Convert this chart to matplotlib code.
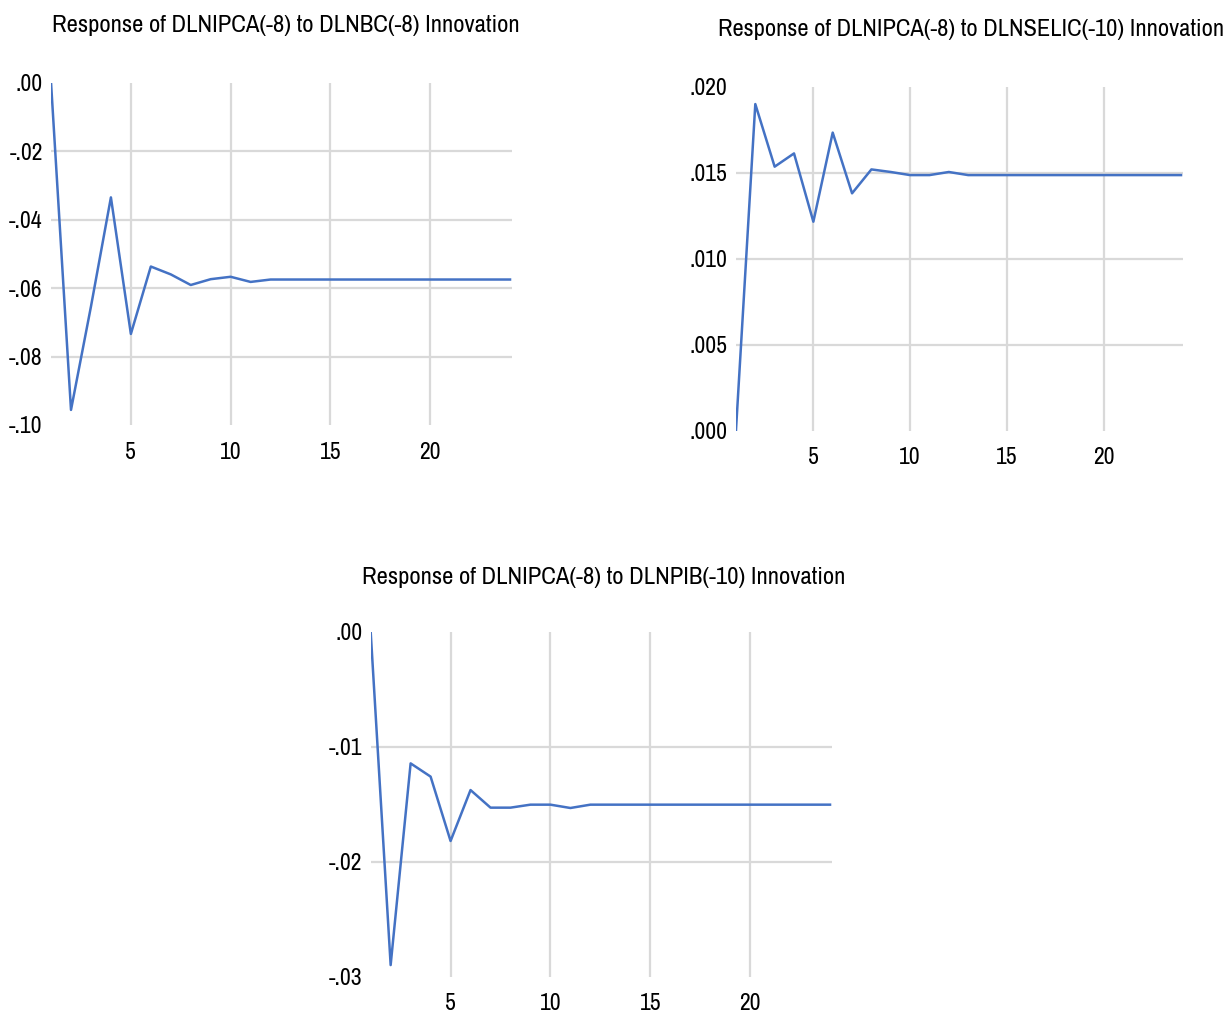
import matplotlib
matplotlib.use("Agg")
import matplotlib.pyplot as plt
from matplotlib.ticker import FuncFormatter

plt.rcParams['font.family'] = ['Archivo Narrow', 'DejaVu Sans']
plt.rcParams['font.stretch'] = 'condensed'

# periods 1..24
periods = list(range(1, 25))

# response to DLNBC(-8)
resp_bc = [0.0, -0.0956, -0.0654, -0.0335, -0.0734, -0.0537, -0.0560, -0.0591,
           -0.0574, -0.0567, -0.0582] + [-0.0575] * 13

# response to DLNSELIC(-10)
resp_selic = [0.0, 0.01899, 0.01535, 0.01612, 0.01215, 0.01733, 0.01380, 0.01519,
              0.01504, 0.01486, 0.01486, 0.01504] + [0.01486] * 12

# response to DLNPIB(-10)
resp_pib = [0.0, -0.02899, -0.01145, -0.01260, -0.01820, -0.01377, -0.01530, -0.01530,
            -0.01504, -0.01504, -0.01533] + [-0.01504] * 13

titles = ["Response of DLNIPCA(-8) to DLNBC(-8) Innovation",
          "Response of DLNIPCA(-8) to DLNSELIC(-10) Innovation",
          "Response of DLNIPCA(-8) to DLNPIB(-10) Innovation"]

line_col = '#4472C4'
grid_col = '#D9D9D9'


def fmt(decimals):
    def f(v, pos):
        s = f"{v:.{decimals}f}"
        s = s.replace("0.", ".", 1)
        if s.startswith("-") and float(s) == 0:
            s = s[1:]
        return s
    return FuncFormatter(f)


def panel(rect, y, ylim, yticks, dec):
    ax = fig.add_axes(rect)
    ax.plot(periods, y, color=line_col, lw=1.8, zorder=3)
    ax.set_xlim(1, 24.1)
    ax.set_ylim(*ylim)
    ax.set_xticks([5, 10, 15, 20])
    ax.set_yticks(yticks)
    ax.yaxis.set_major_formatter(fmt(dec))
    for s in ax.spines.values():
        s.set_visible(False)
    ax.tick_params(length=0, labelsize=17, colors='#000000')
    ax.tick_params(axis='x', pad=12)
    ax.tick_params(axis='y', pad=6)
    ax.grid(True, color=grid_col, lw=1.6)
    gl = ax.yaxis.get_gridlines()
    gl[0].set_visible(False)
    gl[-1].set_visible(False)
    return ax


fig = plt.figure(figsize=(12.27, 10.14), dpi=100)

panel([0.0416, 0.5809, 0.3757, 0.3375], resp_bc, (-0.10, 0.0),
      [-0.10, -0.08, -0.06, -0.04, -0.02, 0.0], 2)
panel([0.5998, 0.5753, 0.3643, 0.3392], resp_selic, (0.0, 0.020),
      [0.0, 0.005, 0.010, 0.015, 0.020], 3)
panel([0.3021, 0.0368, 0.3760, 0.3402], resp_pib, (-0.03, 0.0),
      [-0.03, -0.02, -0.01, 0.0], 2)

fig.text(286 / 1227, 1 - 25 / 1014, titles[0], ha='center', va='center', fontsize=17.8)
fig.text(1224 / 1227, 1 - 30 / 1014, titles[1], ha='right', va='center', fontsize=17.6)
fig.text(604 / 1227, 1 - 577 / 1014, titles[2], ha='center', va='center', fontsize=17.8)

fig.savefig('out.png', dpi=100)
